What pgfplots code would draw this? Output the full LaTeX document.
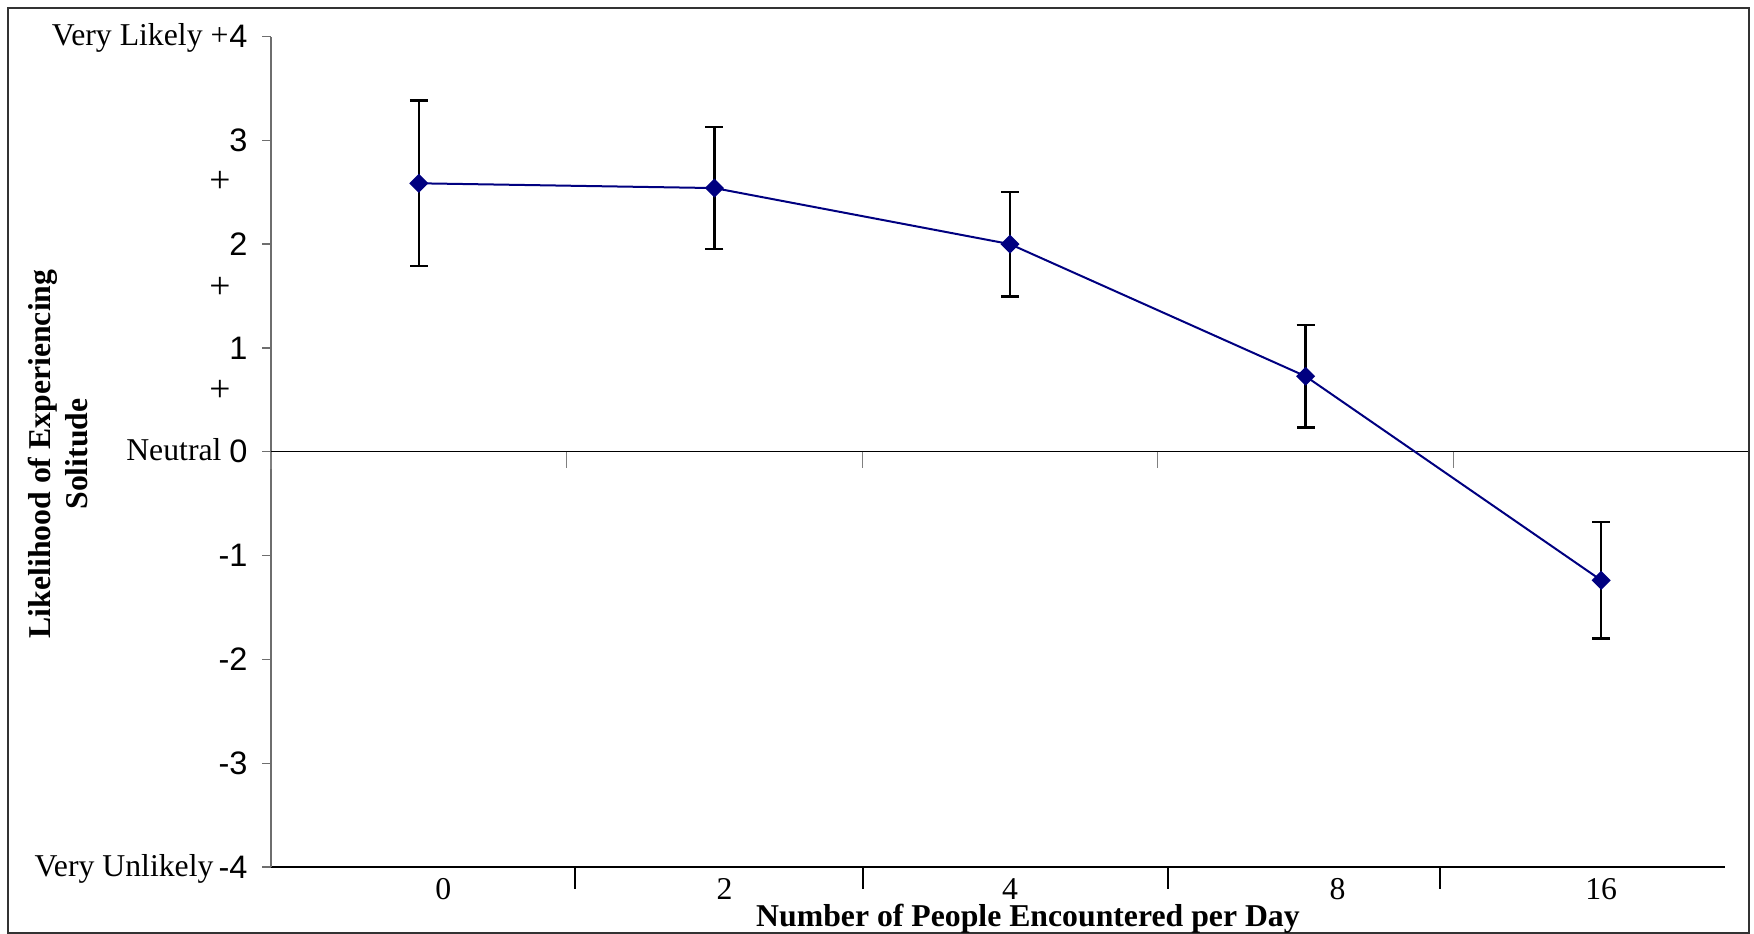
\documentclass[border=0pt]{standalone}
\usepackage{fontspec}
\setmainfont{Liberation Serif}
\newfontfamily\arial{Liberation Sans}
\usepackage{pgfplots}
\pgfplotsset{compat=1.18}
\definecolor{navyline}{RGB}{0,0,128}
\definecolor{axgray}{RGB}{110,110,110}
\begin{document}
\begin{tikzpicture}
\useasboundingbox (0,0) rectangle (701.6pt,373.6pt);
\begin{axis}[
  at={(108.4pt,26.8pt)}, anchor=south west,
  scale only axis, width=591.2pt, height=332.2pt,
  xmin=-0.5, xmax=4.5, ymin=-4, ymax=4,
  clip=false,
  axis y line*=left,
  axis x line*=bottom,
  y axis line style={draw=axgray, line width=0.5pt},
  x axis line style={draw=black, line width=0.8pt, shorten >=9.6pt},
  ytick={-4,-3,-2,-1,0,1,2,3,4},
  yticklabels={-4,-3,-2,-1,0,1,2,3,4},
  yticklabel style={font=\arial\fontsize{13}{15}\selectfont, anchor=east, xshift=-1.6pt},
  tick align=outside,
  ytick style={draw=axgray, line width=0.5pt, /pgfplots/major tick length=3.6pt},
  xtick={0.530,1.504,2.533,3.453},
  xticklabels={},
  xtick style={draw=black, line width=0.8pt, /pgfplots/major tick length=8.8pt},
  minor tick num=0,
]
% zero line with its own ticks
\draw[black, line width=0.5pt] (axis cs:-0.5,0) -- (axis cs:4.5,0);
\draw[gray, line width=0.5pt] (axis cs:-0.5,0) -- ([yshift=-6.8pt]axis cs:-0.5,0);
\draw[gray, line width=0.5pt] (axis cs:0.5,0) -- ([yshift=-6.6pt]axis cs:0.5,0);
\draw[gray, line width=0.5pt] (axis cs:1.5,0) -- ([yshift=-6.6pt]axis cs:1.5,0);
\draw[gray, line width=0.5pt] (axis cs:2.5,0) -- ([yshift=-6.6pt]axis cs:2.5,0);
\draw[gray, line width=0.5pt] (axis cs:3.5,0) -- ([yshift=-6.6pt]axis cs:3.5,0);
\addplot[navyline, line width=0.8pt,
  mark=square*, mark size=2.3pt,
  mark options={rotate=45, solid, fill=navyline, draw=navyline},
  error bars/.cd, y dir=both, y explicit,
  error bar style={black, line width=1pt},
  error mark options={rotate=90, black, mark size=3.6pt, line width=1pt}]
table[x=x, y=y, y error=e] {
x y e
0 2.586 0.798
1 2.540 0.588
2 2.000 0.503
3 0.727 0.493
4 -1.238 0.562
};
% category labels
\node[anchor=north, inner sep=0pt, font=\fontsize{12.7}{15}\selectfont, yshift=-4.3pt] at (axis cs:0.083,-4) {0};
\node[anchor=north, inner sep=0pt, font=\fontsize{12.7}{15}\selectfont, yshift=-4.3pt] at (axis cs:1.034,-4) {2};
\node[anchor=north, inner sep=0pt, font=\fontsize{12.7}{15}\selectfont, yshift=-4.3pt] at (axis cs:2,-4) {4};
\node[anchor=north, inner sep=0pt, font=\fontsize{12.7}{15}\selectfont, yshift=-4.3pt] at (axis cs:3.108,-4) {8};
\node[anchor=north, inner sep=0pt, font=\fontsize{12.7}{15}\selectfont, yshift=-4.3pt] at (axis cs:4,-4) {16};
\end{axis}
\begin{scope}[shift={(0pt,373.6pt)}, x=0.4pt, y=-0.4pt]
  \draw[black!80, line width=0.8pt] (8,8) rectangle (1749,933);
  \begin{scope}[every node/.style={inner sep=0pt, font=\fontsize{12.7}{15}\selectfont}]
    \node[anchor=base east] at (229,46) {Very Likely +};
    \node[anchor=center, font=\fontsize{15}{17}\selectfont] at (220,181.5) {+};
    \node[anchor=center, font=\fontsize{15}{17}\selectfont] at (220,288) {+};
    \node[anchor=center, font=\fontsize{15}{17}\selectfont] at (220,390.5) {+};
    \node[anchor=base east] at (222,461) {Neutral};
    \node[anchor=base east] at (214,877) {Very Unlikely};
  \end{scope}
  \node[anchor=base, inner sep=0pt, font=\bfseries\fontsize{12.7}{15}\selectfont] at (1028,927) {Number of People Encountered per Day};
  \node[rotate=90, align=center, inner sep=0pt, font=\bfseries\fontsize{12.7}{14.8}\selectfont] at (58,454) {Likelihood of Experiencing\\Solitude};
\end{scope}
\end{tikzpicture}
\end{document}
